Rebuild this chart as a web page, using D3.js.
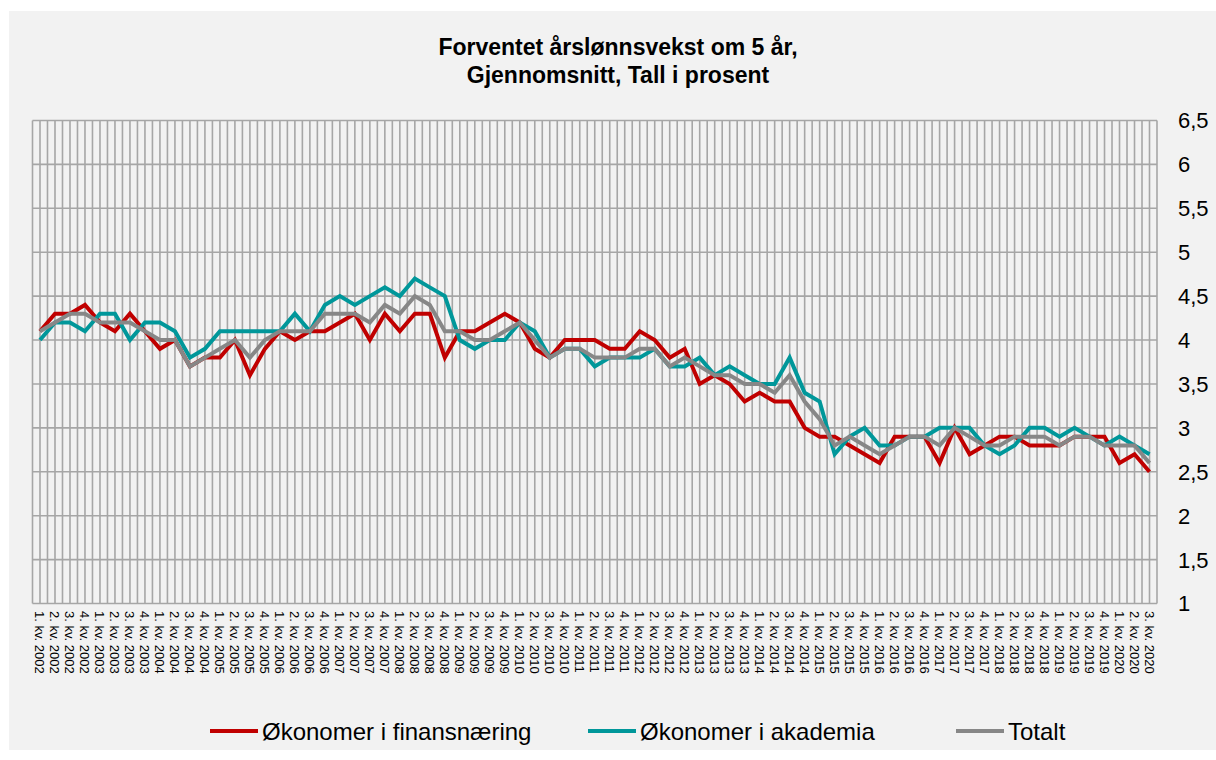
<!DOCTYPE html>
<html><head><meta charset="utf-8">
<script src="https://cdn.jsdelivr.net/npm/d3@7"></script>
<style>body{margin:0;background:#fff}svg{display:block}text{font-family:"Liberation Sans",Arial,sans-serif}</style>
</head><body><svg id="c" width="1216" height="760"></svg>
<script>
const years = d3.range(2002, 2021);
const categories = [];
years.forEach(y => [1,2,3,4].forEach(q => { if (!(y === 2020 && q > 3)) categories.push(q + ". kv. " + y); }));

const finans = [4.1,4.3,4.3,4.4,4.2,4.1,4.3,4.1,3.9,4.0,3.7,3.8,3.8,4.0,3.6,3.9,4.1,4.0,4.1,4.1,
  4.2,4.3,4.0,4.3,4.1,4.3,4.3,3.8,4.1,4.1,4.2,4.3,4.2,3.9,3.8,4.0,4.0,4.0,3.9,3.9,
  4.1,4.0,3.8,3.9,3.5,3.6,3.5,3.3,3.4,3.3,3.3,3.0,2.9,2.9,2.8,2.7,2.6,2.9,2.9,2.9,
  2.6,3.0,2.7,2.8,2.9,2.9,2.8,2.8,2.8,2.9,2.9,2.9,2.6,2.7,2.5];
const akademia = [4.0,4.2,4.2,4.1,4.3,4.3,4.0,4.2,4.2,4.1,3.8,3.9,4.1,4.1,4.1,4.1,4.1,4.3,4.1,4.4,
  4.5,4.4,4.5,4.6,4.5,4.7,4.6,4.5,4.0,3.9,4.0,4.0,4.2,4.1,3.8,3.9,3.9,3.7,3.8,3.8,
  3.8,3.9,3.7,3.7,3.8,3.6,3.7,3.6,3.5,3.5,3.8,3.4,3.3,2.7,2.9,3.0,2.8,2.8,2.9,2.9,
  3.0,3.0,3.0,2.8,2.7,2.8,3.0,3.0,2.9,3.0,2.9,2.8,2.9,2.8,2.7];
const totalt = [4.1,4.2,4.3,4.3,4.2,4.2,4.2,4.1,4.0,4.0,3.7,3.8,3.9,4.0,3.8,4.0,4.1,4.1,4.1,4.3,
  4.3,4.3,4.2,4.4,4.3,4.5,4.4,4.1,4.1,4.0,4.0,4.1,4.2,4.0,3.8,3.9,3.9,3.8,3.8,3.8,
  3.9,3.9,3.7,3.8,3.7,3.6,3.6,3.5,3.5,3.4,3.6,3.3,3.1,2.8,2.9,2.8,2.7,2.8,2.9,2.9,
  2.8,3.0,2.9,2.8,2.8,2.9,2.9,2.9,2.8,2.9,2.9,2.8,2.8,2.8,2.6];
const yTicks = [1,1.5,2,2.5,3,3.5,4,4.5,5,5.5,6,6.5];
const seriesNames = ["Økonomer i finansnæring","Økonomer i akademia","Totalt"];
const seriesColors = ["#c00000","#00979a","#878787"];
const title = ["Forventet årslønnsvekst om 5 år,","Gjennomsnitt, Tall i prosent"];

const svg = d3.select("#c");
svg.append("rect").attr("x",9).attr("y",11).attr("width",1207).attr("height",739).attr("fill","#f2f2f2");

const L = 32.5, R = 1157, T = 120.5, B = 603.5;
const x = d3.scaleBand().domain(categories).range([L,R]);
const y = d3.scaleLinear().domain([1,6.5]).range([B,T]);

const g = svg.append("g");
const vx = [];
categories.forEach(c => { vx.push(x(c)); vx.push(x(c) + x.bandwidth()/2); });
vx.push(R);
g.selectAll("line.v").data(vx).join("line").attr("class","v")
  .attr("x1",d=>d).attr("x2",d=>d).attr("y1",T).attr("y2",B)
  .attr("stroke","#a6a6a6").attr("stroke-width",1.6);
g.selectAll("line.h").data(yTicks).join("line").attr("class","h")
  .attr("x1",L).attr("x2",R).attr("y1",d=>y(d)).attr("y2",d=>y(d))
  .attr("stroke","#a6a6a6").attr("stroke-width",1.6);

const fmt = d => String(d).replace(".", ",");
svg.selectAll("text.yl").data(yTicks).join("text").attr("class","yl")
  .attr("x",1178).attr("y",d=>y(d)).attr("dy","0.36em")
  .attr("font-size",22).attr("fill","#000").text(fmt);

svg.selectAll("text.xl").data(categories).join("text").attr("class","xl")
  .attr("transform",d=>`translate(${x(d)+x.bandwidth()/2},611) rotate(90)`)
  .attr("dy","0.35em").attr("font-size",13).attr("fill","#000").text(d=>d);

const line = d3.line().x((d,i)=>x(categories[i])+x.bandwidth()/2).y(d=>y(d));
[finans, akademia, totalt].forEach((s,k) => {
  svg.append("path").datum(s).attr("d",line).attr("fill","none")
    .attr("stroke",seriesColors[k]).attr("stroke-width",4).attr("stroke-linejoin","miter");
});

svg.selectAll("text.t").data(title).join("text").attr("class","t")
  .attr("x",618).attr("y",(d,i)=>55+i*28).attr("text-anchor","middle")
  .attr("font-size",23).attr("font-weight","bold").attr("fill","#000").text(d=>d);

const legX = [210, 588, 956];
const lg = svg.selectAll("g.lg").data(seriesNames).join("g").attr("class","lg")
  .attr("transform",(d,i)=>`translate(${legX[i]},731)`);
lg.append("line").attr("x1",0).attr("x2",48).attr("stroke",(d,i)=>seriesColors[i]).attr("stroke-width",4);
lg.append("text").attr("x",52).attr("dy","0.36em").attr("font-size",24).attr("fill","#000").text(d=>d);
</script></body></html>
